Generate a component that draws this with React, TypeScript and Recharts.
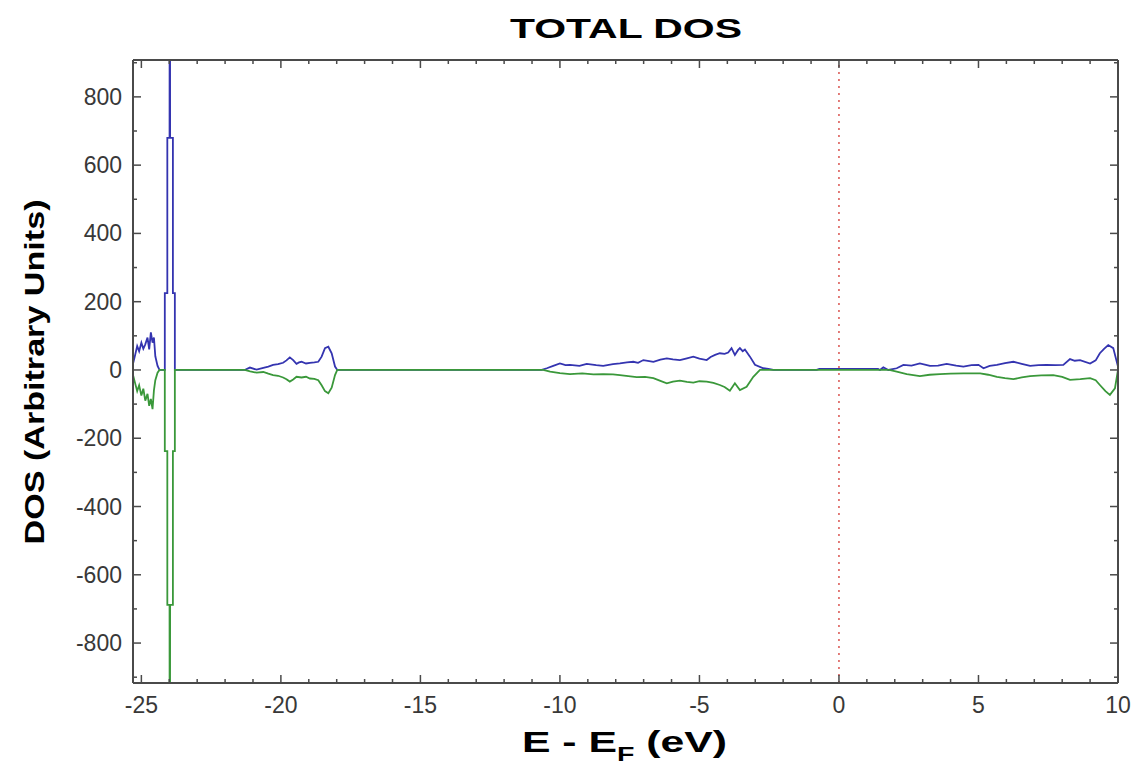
import React from "react";
import { LineChart, Line, XAxis, YAxis, ReferenceLine } from "recharts";

// energy window (eV) and DOS window
const E_DOMAIN: [number, number] = [-25.3, 10];
const DOS_DOMAIN: [number, number] = [-917, 908];

const E_TICKS = Array.from({ length: 36 }, (_, i) => i - 25);
const DOS_TICKS = Array.from({ length: 19 }, (_, i) => i * 100 - 900);

// spin up DOS, [E - EF, DOS]
const spinUp: [number, number][] = [
  [-25.3, 18], [-25.22, 45], [-25.15, 70], [-25.08, 55], [-25.0, 80], [-24.93, 62],
  [-24.86, 75], [-24.78, 95], [-24.72, 60], [-24.66, 110], [-24.6, 80], [-24.55, 95],
  [-24.5, 40], [-24.42, 12], [-24.35, 0],
  [-24.16, 0], [-24.16, 225], [-24.07, 225], [-24.07, 680], [-23.99, 680], [-23.98, 2000],
  [-23.97, 680], [-23.87, 680], [-23.87, 225], [-23.8, 225], [-23.8, 0],
  [-21.3, 0], [-21.11, 7], [-20.87, 1], [-20.63, 6], [-20.45, 10], [-20.28, 15], [-20.1, 17],
  [-19.92, 21], [-19.8, 28], [-19.68, 37], [-19.56, 29], [-19.44, 18], [-19.35, 22],
  [-19.26, 24], [-19.1, 19], [-18.96, 21], [-18.8, 22], [-18.66, 24], [-18.54, 39],
  [-18.42, 64], [-18.3, 68], [-18.18, 49], [-18.06, 10], [-17.98, 0],
  [-10.65, 0], [-10.47, 5], [-10.24, 12], [-10.0, 19], [-9.8, 14], [-9.64, 15], [-9.3, 12],
  [-9.04, 18], [-8.7, 14], [-8.45, 12], [-8.1, 17], [-7.85, 19], [-7.6, 22], [-7.37, 24],
  [-7.2, 21], [-7.01, 29], [-6.8, 26], [-6.65, 24], [-6.4, 30], [-6.17, 34], [-5.95, 31],
  [-5.7, 29], [-5.45, 34], [-5.22, 39], [-5.0, 33], [-4.74, 29], [-4.6, 38], [-4.44, 44],
  [-4.27, 49], [-4.1, 47], [-3.97, 51], [-3.85, 64], [-3.73, 44], [-3.62, 58], [-3.55, 64],
  [-3.45, 55], [-3.37, 60], [-3.19, 39], [-3.01, 15], [-2.71, 5], [-2.53, 3], [-2.35, 0],
  [-0.8, 0], [-0.7, 3], [1.4, 3], [1.47, 0], [1.59, 8], [1.77, 0], [2.07, 5], [2.31, 15],
  [2.6, 13], [2.9, 19], [3.26, 12], [3.55, 13], [3.86, 18], [4.2, 13], [4.46, 10], [4.75, 14],
  [5.0, 15], [5.18, 5], [5.4, 12], [5.66, 15], [5.95, 20], [6.25, 24], [6.55, 18],
  [6.85, 12], [7.15, 14], [7.44, 15], [7.75, 14], [8.04, 15], [8.28, 32], [8.45, 27],
  [8.64, 29], [9.0, 19], [9.2, 28], [9.35, 49], [9.5, 62], [9.65, 73], [9.83, 64], [10.0, 10],
];

// spin down DOS, [E - EF, DOS]
const spinDown: [number, number][] = [
  [-25.3, -15], [-25.22, -40], [-25.15, -62], [-25.08, -45], [-25.0, -75], [-24.93, -55],
  [-24.86, -90], [-24.78, -70], [-24.72, -105], [-24.66, -85], [-24.6, -115], [-24.55, -60],
  [-24.5, -30], [-24.42, -8], [-24.35, 0],
  [-24.16, 0], [-24.16, -238], [-24.07, -238], [-24.07, -688], [-23.99, -688], [-23.98, -2000],
  [-23.97, -688], [-23.87, -688], [-23.87, -238], [-23.8, -238], [-23.8, 0],
  [-21.3, 0], [-21.1, -4], [-20.87, -8], [-20.63, -6], [-20.45, -11], [-20.28, -15],
  [-20.1, -17], [-19.92, -22], [-19.8, -27], [-19.68, -34], [-19.56, -28], [-19.44, -20],
  [-19.26, -22], [-19.1, -20], [-18.96, -25], [-18.8, -26], [-18.66, -30], [-18.54, -45],
  [-18.42, -62], [-18.3, -68], [-18.18, -52], [-18.06, -15], [-17.98, 0],
  [-10.6, 0], [-10.35, -5], [-10.0, -9], [-9.64, -12], [-9.2, -10], [-8.8, -13], [-8.45, -12],
  [-8.1, -13], [-7.85, -15], [-7.55, -18], [-7.25, -21], [-6.95, -20], [-6.65, -24],
  [-6.4, -32], [-6.17, -39], [-5.95, -34], [-5.7, -31], [-5.45, -35], [-5.22, -37],
  [-5.0, -33], [-4.74, -34], [-4.5, -38], [-4.27, -44], [-4.1, -50], [-3.91, -61],
  [-3.73, -39], [-3.55, -59], [-3.31, -49], [-3.07, -20], [-2.83, 0],
  [1.8, 0], [2.07, -5], [2.43, -12], [2.9, -18], [3.25, -14], [3.62, -12], [4.0, -11],
  [4.46, -10], [5.06, -10], [5.35, -14], [5.66, -20], [5.95, -24], [6.25, -27], [6.55, -22],
  [6.85, -18], [7.25, -16], [7.68, -15], [8.0, -20], [8.28, -29], [8.65, -27], [9.0, -24],
  [9.2, -30], [9.35, -44], [9.55, -62], [9.71, -73], [9.89, -54], [10.0, 0],
];

const upData = spinUp.map(([e, dos]) => ({ e, dos }));
const downData = spinDown.map(([e, dos]) => ({ e, dos }));

const AXIS = "#4a4a4a";
const TICK_TEXT = "#383838";
const FONT = "'Liberation Sans', Arial, sans-serif";

const isMajorE = (v: number) => Math.abs(v % 5) < 1e-6;
const isMajorDos = (v: number) => Math.abs(v % 200) < 1e-6;

const BottomTick = (props: any) => {
  const { x, y, payload } = props;
  const major = isMajorE(payload.value);
  return (
    <g>
      <line x1={x} x2={x} y1={y} y2={y - (major ? 8 : 4)} stroke={AXIS} strokeWidth={1.5} />
      {major && (
        <text x={x} y={y + 30} textAnchor="middle" fontSize={23} fill={TICK_TEXT} fontFamily={FONT}>
          {payload.value}
        </text>
      )}
    </g>
  );
};

const TopTick = (props: any) => {
  const { x, y, payload } = props;
  const major = isMajorE(payload.value);
  return <line x1={x} x2={x} y1={y} y2={y + (major ? 8 : 4)} stroke={AXIS} strokeWidth={1.5} />;
};

const LeftTick = (props: any) => {
  const { x, y, payload } = props;
  const major = isMajorDos(payload.value);
  return (
    <g>
      <line x1={x} x2={x + (major ? 8 : 4)} y1={y} y2={y} stroke={AXIS} strokeWidth={1.5} />
      {major && (
        <text x={x - 11} y={y + 8} textAnchor="end" fontSize={23} fill={TICK_TEXT} fontFamily={FONT}>
          {payload.value}
        </text>
      )}
    </g>
  );
};

const RightTick = (props: any) => {
  const { x, y, payload } = props;
  const major = isMajorDos(payload.value);
  return <line x1={x} x2={x - (major ? 8 : 4)} y1={y} y2={y} stroke={AXIS} strokeWidth={1.5} />;
};

export default function App() {
  const axisLine = { stroke: AXIS, strokeWidth: 2 };
  return (
    <div style={{ position: "absolute", left: 0, top: 0, width: 1136, height: 764, background: "#fff" }}>
      <LineChart width={1136} height={764} data={upData} margin={{ top: 0, right: 0, bottom: 0, left: 0 }}>
        <XAxis
          xAxisId="e"
          dataKey="e"
          type="number"
          domain={E_DOMAIN}
          allowDataOverflow
          ticks={E_TICKS}
          interval={0}
          height={81}
          tickSize={0}
          tickMargin={0}
          tickLine={false}
          axisLine={axisLine}
          tick={BottomTick}
        />
        <XAxis
          xAxisId="eTop"
          dataKey="e"
          orientation="top"
          type="number"
          domain={E_DOMAIN}
          allowDataOverflow
          ticks={E_TICKS}
          interval={0}
          height={60}
          tickSize={0}
          tickMargin={0}
          tickLine={false}
          axisLine={axisLine}
          tick={TopTick}
        />
        <YAxis
          yAxisId="dos"
          type="number"
          domain={DOS_DOMAIN}
          allowDataOverflow
          ticks={DOS_TICKS}
          interval={0}
          width={133}
          tickSize={0}
          tickMargin={0}
          tickLine={false}
          axisLine={axisLine}
          tick={LeftTick}
        />
        <YAxis
          yAxisId="dosRight"
          orientation="right"
          type="number"
          domain={DOS_DOMAIN}
          allowDataOverflow
          ticks={DOS_TICKS}
          interval={0}
          width={18}
          tickSize={0}
          tickMargin={0}
          tickLine={false}
          axisLine={axisLine}
          tick={RightTick}
        />
        <ReferenceLine
          x={0}
          xAxisId="e"
          yAxisId="dos"
          stroke="#d9534f"
          strokeWidth={1.5}
          strokeDasharray="2 5"
        />
        {/* invisible series so the top/right frame axes get a scale */}
        <Line
          xAxisId="eTop"
          yAxisId="dosRight"
          data={upData}
          dataKey="dos"
          stroke="none"
          dot={false}
          activeDot={false}
          isAnimationActive={false}
        />
        <Line
          xAxisId="e"
          yAxisId="dos"
          data={upData}
          dataKey="dos"
          type="linear"
          stroke="#3434b0"
          strokeWidth={1.8}
          dot={false}
          isAnimationActive={false}
        />
        <Line
          xAxisId="e"
          yAxisId="dos"
          data={downData}
          dataKey="dos"
          type="linear"
          stroke="#3a983a"
          strokeWidth={1.8}
          dot={false}
          isAnimationActive={false}
        />
      </LineChart>
      <svg
        width={1136}
        height={764}
        style={{ position: "absolute", left: 0, top: 0, pointerEvents: "none" }}
        fontFamily={FONT}
        fontWeight="bold"
        fill="#000"
      >
        <text x={510} y={38} fontSize={28} textLength={232} lengthAdjust="spacingAndGlyphs">
          TOTAL DOS
        </text>
        <text
          x={0}
          y={0}
          fontSize={28}
          textAnchor="middle"
          textLength={345}
          lengthAdjust="spacingAndGlyphs"
          transform="translate(44 372) rotate(-90)"
        >
          DOS (Arbitrary Units)
        </text>
        <text x={522} y={752} fontSize={30} textLength={205} lengthAdjust="spacingAndGlyphs">
          E - E
          <tspan fontSize={20} dy={9}>F</tspan>
          <tspan dy={-9}> (eV)</tspan>
        </text>
      </svg>
    </div>
  );
}
